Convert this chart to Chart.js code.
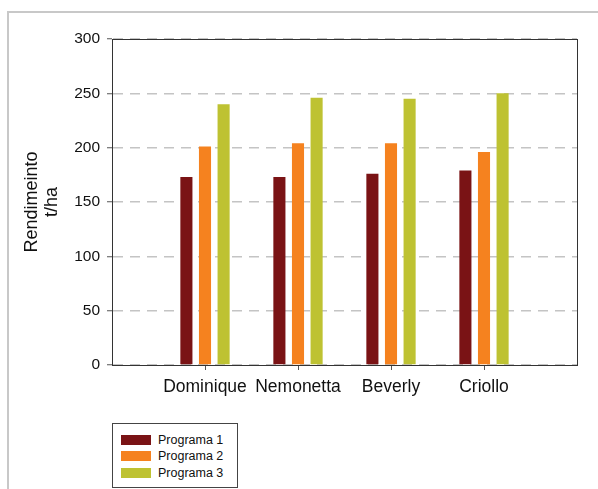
<!DOCTYPE html>
<html>
<head>
<meta charset="utf-8">
<script src="https://cdn.jsdelivr.net/npm/chart.js@4/dist/chart.umd.min.js"></script>
<style>
  body { margin: 0; background: #fff; font-family: "Liberation Sans", Arial, sans-serif; }
  #wrap { position: relative; width: 598px; height: 489px; overflow: hidden; }
  #frame { position: absolute; left: 7px; top: 11px; width: 700px; height: 600px;
           border-left: 2px solid #c8c8c8; border-top: 2px solid #c8c8c8; }
  #chart { position: absolute; left: 0; top: 0; }
  #legend { position: absolute; left: 112px; top: 423px; width: 124px; height: 63px;
            border: 1px solid #444; background: #fff; }
  .row { position: absolute; left: 8px; height: 11px; display: flex; align-items: center;
         font-size: 12.5px; color: #111; white-space: nowrap; }
  .sw { width: 30px; height: 10px; margin-right: 7px; }
</style>
</head>
<body>
<div id="wrap">
  <div id="frame"></div>
  <canvas id="chart" width="598" height="489"></canvas>
  <div id="legend"></div>
</div>
<script>
const categories = ['Dominique', 'Nemonetta', 'Beverly', 'Criollo'];
const programa1 = [173, 173, 176, 179];
const programa2 = [201, 204, 204, 196];
const programa3 = [240, 246, 245, 250];
const seriesNames = ['Programa 1', 'Programa 2', 'Programa 3'];
const seriesColors = ['#7a1315', '#f5821f', '#bec232'];
const yTicks = [0, 50, 100, 150, 200, 250, 300];

// empty slots at both ends so the groups sit between the plot edges
const labels = [''].concat(categories, ['']);
const pad = vals => [null].concat(vals, [null]);

const plotBox = {
  id: 'plotBox',
  afterDraw(chart) {
    const { ctx, chartArea: a } = chart;
    ctx.save();
    ctx.strokeStyle = '#333';
    ctx.lineWidth = 1;
    ctx.strokeRect(Math.round(a.left) + 0.5, Math.round(a.top) + 0.5,
                   Math.round(a.right - a.left), Math.round(a.bottom - a.top));
    ctx.restore();
  }
};

new Chart(document.getElementById('chart'), {
  type: 'bar',
  data: {
    labels: labels,
    datasets: [programa1, programa2, programa3].map((vals, i) => ({
      label: seriesNames[i],
      data: pad(vals),
      backgroundColor: seriesColors[i],
      categoryPercentage: 0.6,
      barPercentage: 0.65
    }))
  },
  options: {
    responsive: false,
    animation: false,
    layout: { padding: { top: 39, right: 21, left: 0, bottom: 0 } },
    plugins: { legend: { display: false }, tooltip: { enabled: false } },
    scales: {
      x: {
        offset: false,
        grid: {
          offset: false,
          drawOnChartArea: false,
          tickLength: 5,
          tickColor: c => (c.index === 0 || c.index === labels.length - 1) ? 'rgba(0,0,0,0)' : '#555'
        },
        border: { color: '#444' },
        ticks: { color: '#111', font: { family: 'Liberation Sans', size: 17.5 }, padding: 7, maxRotation: 0, autoSkip: false },
        afterFit: s => { s.height = 124; }
      },
      y: {
        min: 0,
        max: 300,
        afterBuildTicks: s => { s.ticks = yTicks.map(v => ({ value: v })); },
        grid: {
          color: '#c4c4c4',
          lineWidth: 1.5,
          tickLength: 5,
          tickColor: '#555',
          tickWidth: 1
        },
        border: { color: '#444', dash: [10, 7] },
        ticks: { color: '#111', font: { family: 'Liberation Sans', size: 15.5 }, padding: 7 },
        title: {
          display: true,
          text: ['Rendimeinto', 't/ha'],
          color: '#111',
          font: { family: 'Liberation Sans', size: 18, lineHeight: 1.1 },
          padding: { top: 22, bottom: 0 }
        },
        afterFit: s => { s.width = 112; }
      }
    }
  },
  plugins: [plotBox]
});

const legend = document.getElementById('legend');
seriesNames.forEach((name, i) => {
  const row = document.createElement('div');
  row.className = 'row';
  row.style.top = (10 + i * 16.5) + 'px';
  row.innerHTML = '<span class="sw" style="background:' + seriesColors[i] + '"></span>' + name;
  legend.appendChild(row);
});
</script>
</body>
</html>
